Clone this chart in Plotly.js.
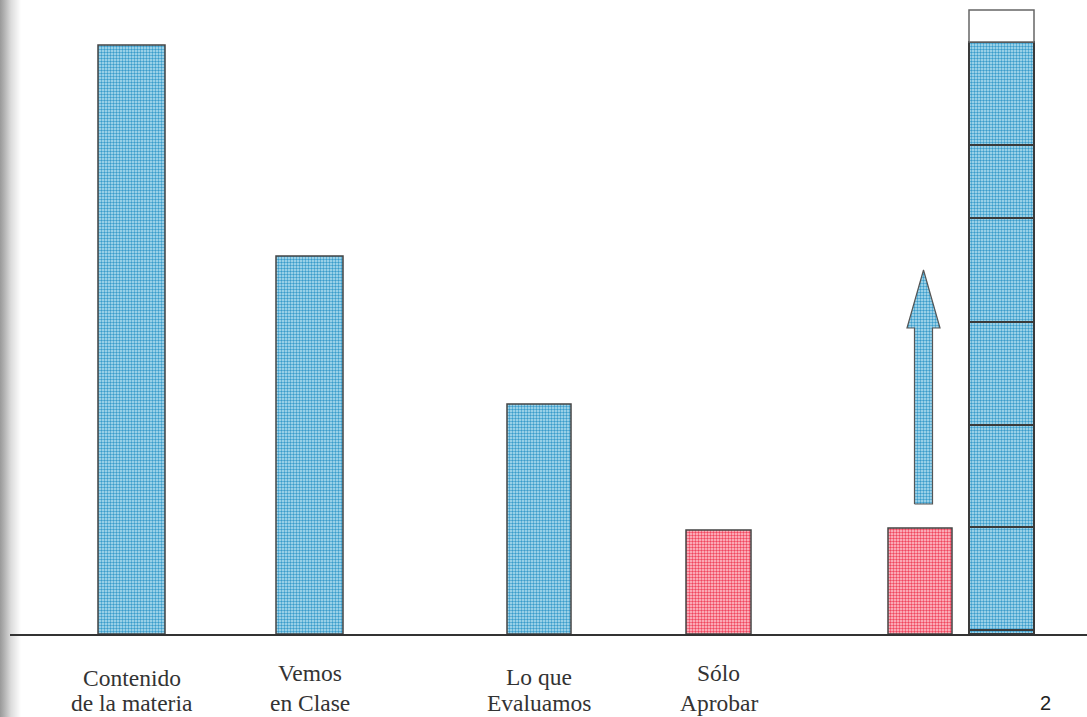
<!DOCTYPE html>
<html>
<head>
<meta charset="utf-8">
<script src="https://cdn.plot.ly/plotly-3.0.1.min.js"></script>
<style>
  html, body { margin: 0; padding: 0; width: 1087px; height: 717px; overflow: hidden;
    background: linear-gradient(to right, #999999 0px, #b0b0b0 4px, #dcdcdc 11px, #ffffff 21px); }
  #chart { width: 1087px; height: 717px; }
</style>
</head>
<body>
<div id="chart"></div>
<script>
// ---- data ----
const blueX = [131.5, 309.5, 539];
const blueValues = [589, 378, 230];
const blueWidths = [67, 67, 64];

const redX = [718.5, 920];
const redValues = [104, 106];
const redWidths = [65, 64];

const stackX = 1001.5;
const stackSegments = [4, 103, 102, 103, 104, 73, 103];
const stackTopBlank = 32;
const stackWidth = 65;

const arrowX = 923.5;
const arrowShaftBottom = 130;
const arrowHeadBase = 306;
const arrowTip = 364;
const arrowShaftHalf = 9;
const arrowHeadHalf = 16.5;

const labelX = [131.5, 309.5, 539, 718.5];
const labelLine1 = ["Contenido", "Vemos", "Lo que", "Sólo"];
const labelLine2 = ["de la materia", "en Clase", "Evaluamos", "Aprobar"];
const labelY1 = [-44, -39, -43, -39];
const labelY2 = [-69, -69, -69, -69];
const slideNumber = "2";

// ---- styles ----
const plotH = 634;
const bluePattern = {shape: '.', fgcolor: '#3a9ccb', bgcolor: '#b8e2f1', size: 3, solidity: 0.5};
const redPattern = {shape: '.', fgcolor: '#f0465e', bgcolor: '#ffcad2', size: 3, solidity: 0.5};

const traces = [];
traces.push({
  type: 'bar', x: blueX, y: blueValues, width: blueWidths,
  marker: {color: '#b8e2f1', pattern: bluePattern, line: {color: '#444', width: 1.5}},
  hoverinfo: 'skip'
});
traces.push({
  type: 'bar', x: redX, y: redValues, width: redWidths,
  marker: {color: '#ffcad2', pattern: redPattern, line: {color: '#444', width: 1.5}},
  hoverinfo: 'skip'
});
// stacked column
const bases = [];
let acc = 0;
for (const h of stackSegments) { bases.push(acc); acc += h; }
traces.push({
  type: 'bar', x: stackSegments.map(() => stackX), y: stackSegments, base: bases,
  width: stackSegments.map(() => stackWidth),
  marker: {color: '#b8e2f1', pattern: bluePattern, line: {color: '#3a3a3a', width: 2}},
  hoverinfo: 'skip'
});
traces.push({
  type: 'bar', x: [stackX], y: [stackTopBlank], base: [acc], width: [stackWidth],
  marker: {color: '#ffffff', line: {color: '#666', width: 1.5}},
  hoverinfo: 'skip'
});
// block arrow
traces.push({
  type: 'scatter', mode: 'lines', fill: 'toself',
  x: [arrowX - arrowShaftHalf, arrowX - arrowShaftHalf, arrowX - arrowHeadHalf, arrowX,
      arrowX + arrowHeadHalf, arrowX + arrowShaftHalf, arrowX + arrowShaftHalf, arrowX - arrowShaftHalf],
  y: [arrowShaftBottom, arrowHeadBase, arrowHeadBase, arrowTip,
      arrowHeadBase, arrowHeadBase, arrowShaftBottom, arrowShaftBottom],
  fillcolor: '#b8e2f1',
  fillpattern: bluePattern,
  line: {color: '#555', width: 1.2},
  hoverinfo: 'skip'
});

const serif = {family: 'Liberation Serif, Times New Roman, serif', size: 23.5, color: '#333'};
const annotations = [];
for (let i = 0; i < labelX.length; i++) {
  annotations.push({x: labelX[i], y: labelY1[i] / plotH, xref: 'x', yref: 'paper', yanchor: 'middle',
    text: labelLine1[i], showarrow: false, font: serif, borderpad: 0});
  annotations.push({x: labelX[i], y: labelY2[i] / plotH, xref: 'x', yref: 'paper', yanchor: 'middle',
    text: labelLine2[i], showarrow: false, font: serif, borderpad: 0});
}
annotations.push({x: 1045, y: -69 / plotH, xref: 'x', yref: 'paper', yanchor: 'middle', text: slideNumber,
  showarrow: false, borderpad: 0, font: {family: 'Liberation Sans, Arial, sans-serif', size: 20, color: '#222'}});

const layout = {
  width: 1087, height: 717,
  margin: {l: 10, r: 0, t: 0, b: 83, pad: 0},
  paper_bgcolor: 'rgba(0,0,0,0)', plot_bgcolor: 'rgba(0,0,0,0)',
  barmode: 'overlay', showlegend: false, hovermode: false,
  xaxis: {range: [10, 1087], showgrid: false, zeroline: false, showticklabels: false,
    ticks: '', showline: true, linecolor: '#333', linewidth: 1.5, fixedrange: true},
  yaxis: {range: [0, plotH], showgrid: false, zeroline: false, showticklabels: false,
    ticks: '', showline: false, fixedrange: true},
  annotations: annotations
};

Plotly.newPlot('chart', traces, layout, {displayModeBar: false, staticPlot: true});
</script>
</body>
</html>
